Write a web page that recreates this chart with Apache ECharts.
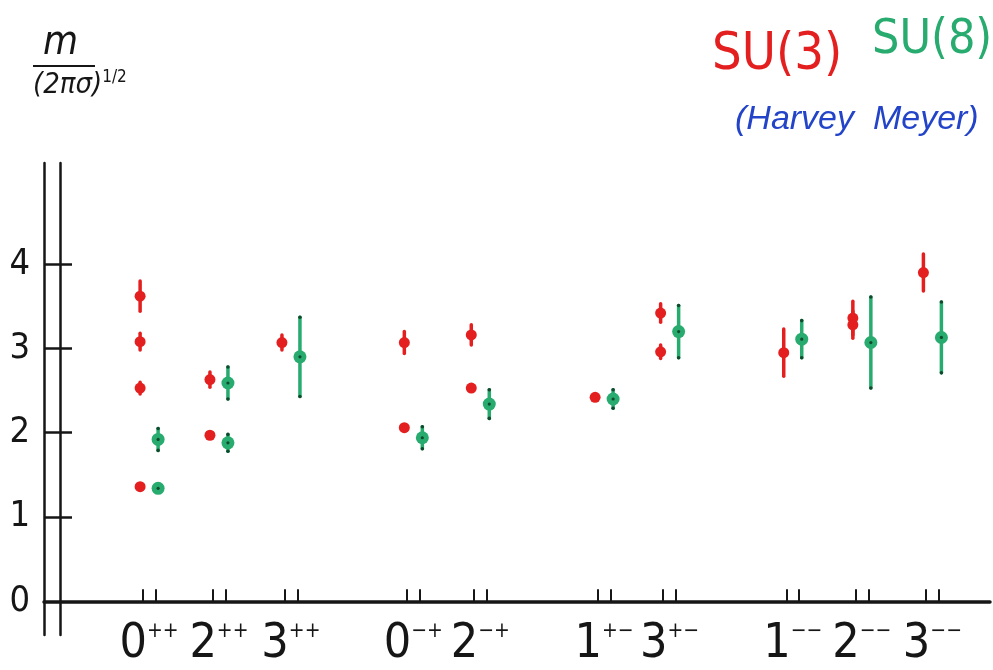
<!DOCTYPE html>
<html>
<head>
<meta charset="utf-8">
<script src="https://cdn.jsdelivr.net/npm/echarts@6/dist/echarts.min.js"></script>
<style>
html,body{margin:0;padding:0;background:#fff;}
#c{width:993px;height:670px;}
</style>
</head>
<body>
<div id="c"></div>
<script>
// ---- data ----
var stateJ = ['0', '2', '3', '0', '2', '1', '3', '1', '2', '3'];
var statePC = ['++', '++', '++', '\u2212+', '\u2212+', '+\u2212', '+\u2212', '\u2212\u2212', '\u2212\u2212', '\u2212\u2212'];
// axis position of each state (groups separated by gaps)
var statePos = [0, 0.97, 1.97, 3.67, 4.6, 6.32, 7.23, 8.94, 9.9, 10.88];
var yTicks = [0, 1, 2, 3, 4];
// [state index, m/sqrt(2 pi sigma), error]
var su3 = [
  [0, 3.62, 0.18], [0, 3.08, 0.10], [0, 2.53, 0.07], [0, 1.36, 0.03],
  [1, 2.63, 0.09], [1, 1.97, 0.03],
  [2, 3.07, 0.09],
  [3, 3.07, 0.13], [3, 2.06, 0.03],
  [4, 3.16, 0.12], [4, 2.53, 0.03],
  [5, 2.42, 0.03],
  [6, 3.42, 0.11], [6, 2.96, 0.08],
  [7, 2.95, 0.28],
  [8, 3.36, 0.20], [8, 3.28, 0.16],
  [9, 3.90, 0.22]
];
var su8 = [
  [0, 1.92, 0.13], [0, 1.34, 0.03],
  [1, 2.59, 0.19], [1, 1.88, 0.10],
  [2, 2.90, 0.47],
  [3, 1.94, 0.13],
  [4, 2.34, 0.17],
  [5, 2.40, 0.11],
  [6, 3.20, 0.31],
  [7, 3.11, 0.22],
  [8, 3.07, 0.54],
  [9, 3.13, 0.42]
];

// ---- styles ----
var RED = '#e3201f', GREEN = '#27ab6e', DKGREEN = '#0f4a2c', BLUE = '#2344c8', INK = '#161616';
var HAND = '"Liberation Sans Narrow","DejaVu Sans Condensed","Liberation Sans",sans-serif';

function toPts(arr, dx) {
  return arr.map(function (d) { return [statePos[d[0]] + dx, d[1], d[2]]; });
}

function makeRender(color, r, dark) {
  return function (params, api) {
    var x = api.value(0), y = api.value(1), e = api.value(2);
    var c = api.coord([x, y]);
    var t = api.coord([x, y + e]);
    var b = api.coord([x, y - e]);
    var kids = [
      { type: 'line', shape: { x1: t[0], y1: t[1], x2: b[0], y2: b[1] },
        style: { stroke: color, lineWidth: 3.5, lineCap: 'round' } },
      { type: 'circle', shape: { cx: c[0], cy: c[1], r: r }, style: { fill: color } }
    ];
    if (dark) {
      kids.push({ type: 'circle', shape: { cx: c[0], cy: c[1], r: 1.6 }, style: { fill: dark } });
      if (e > 0.08) {
        kids.push({ type: 'circle', shape: { cx: t[0], cy: t[1], r: 1.8 }, style: { fill: dark } });
        kids.push({ type: 'circle', shape: { cx: b[0], cy: b[1], r: 1.8 }, style: { fill: dark } });
      }
    }
    return { type: 'group', children: kids };
  };
}

var tickVals = [];
statePos.forEach(function (p) { tickVals.push(p - 0.09, p + 0.09); });

function labelFor(v) {
  for (var i = 0; i < statePos.length; i++) {
    if (Math.abs(statePos[i] - v) < 1e-6) return '{b|' + stateJ[i] + '}{s|' + statePC[i] + '}';
  }
  return '';
}

var chart = echarts.init(document.getElementById('c'), null, { renderer: 'canvas' });
chart.setOption({
  backgroundColor: '#ffffff',
  animation: false,
  title: [{
    left: 28, top: 20,
    text: '{m|m}\n{bar| }\n{d|(2\u03c0\u03c3)}{e|1/2}',
    textStyle: {
      fontWeight: 'normal',
      rich: {
        m: { fontFamily: HAND, fontStyle: 'italic', fontWeight: 'normal', fontSize: 40, color: INK, padding: [0, 0, 0, 10], lineHeight: 38 },
        bar: { width: 62, height: 2, backgroundColor: INK, fontSize: 2, lineHeight: 6 },
        d: { fontFamily: HAND, fontStyle: 'italic', fontWeight: 'normal', fontSize: 29, color: INK, lineHeight: 32 },
        e: { fontFamily: HAND, fontWeight: 'normal', fontSize: 17, color: INK, verticalAlign: 'top', lineHeight: 17 }
      }
    }
  }, {
    left: 730, top: 98,
    text: '(Harvey  Meyer)',
    textStyle: { fontFamily: '"Liberation Sans",sans-serif', fontStyle: 'italic', fontWeight: 'normal', fontSize: 34, color: BLUE }
  }],
  legend: [{
    left: 702, top: 24, itemWidth: 0, itemGap: 0,
    data: [{ name: 'SU(3)', icon: 'none' }],
    textStyle: { fontFamily: HAND, fontSize: 52, color: RED }
  }, {
    left: 862, top: 12, itemWidth: 0, itemGap: 0,
    data: [{ name: 'SU(8)', icon: 'none' }],
    textStyle: { fontFamily: HAND, fontSize: 48, color: GREEN }
  }],
  grid: { left: 44, right: 3, top: 163, bottom: 35, outerBoundsMode: 'none', containLabel: false },
  xAxis: {
    type: 'value', min: -1.46, max: 11.68,
    splitLine: { show: false },
    axisLine: { show: true, onZero: true, onZeroAxisIndex: 0, lineStyle: { color: INK, width: 3.5 } },
    axisTick: { show: true, inside: true, length: 12, customValues: tickVals, lineStyle: { color: INK, width: 2 } },
    axisLabel: {
      show: true, customValues: statePos, margin: -14,
      formatter: labelFor,
      rich: {
        b: { fontFamily: HAND, fontSize: 48, color: INK, lineHeight: 48 },
        s: { fontFamily: HAND, fontSize: 21, color: INK, verticalAlign: 'top', lineHeight: 21 }
      }
    }
  },
  yAxis: [{
    type: 'value', position: 'left', min: -0.4, max: 5.2,
    splitLine: { show: false },
    axisLine: { show: true, onZero: false, lineStyle: { color: INK, width: 2.5 } },
    axisTick: { show: true, inside: true, length: 28, customValues: [1, 2, 3, 4], lineStyle: { color: INK, width: 2.5 } },
    axisLabel: { show: true, customValues: yTicks, margin: 14, fontFamily: HAND, fontSize: 36, color: INK }
  }, {
    type: 'value', position: 'left', offset: -16, min: -0.4, max: 5.2,
    splitLine: { show: false },
    axisLine: { show: true, onZero: false, lineStyle: { color: INK, width: 2.5 } },
    axisTick: { show: false },
    axisLabel: { show: false }
  }],
  series: [{
    name: 'SU(3)', type: 'custom', xAxisIndex: 0, yAxisIndex: 0,
    data: toPts(su3, -0.125),
    renderItem: makeRender(RED, 5.5, null),
    itemStyle: { color: RED },
    encode: { x: 0, y: 1 }
  }, {
    name: 'SU(8)', type: 'custom', xAxisIndex: 0, yAxisIndex: 0,
    data: toPts(su8, 0.125),
    renderItem: makeRender(GREEN, 6.5, DKGREEN),
    itemStyle: { color: GREEN },
    encode: { x: 0, y: 1 }
  }]
});
</script>
</body>
</html>
